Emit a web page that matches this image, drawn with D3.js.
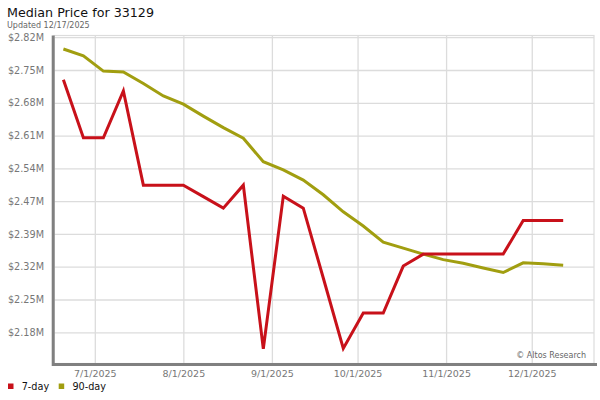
<!DOCTYPE html>
<html>
<head>
<meta charset="utf-8">
<script src="https://cdn.jsdelivr.net/npm/d3@7"></script>
<style>
  body { margin: 0; background: #fff; }
  svg { display: block; font-family: "DejaVu Sans", Verdana, sans-serif; }
</style>
</head>
<body>
<div class="canvas"></div>
<script>
// weekly points, Friday dates
const dates = [
  "2025-06-20", "2025-06-27", "2025-07-04", "2025-07-11", "2025-07-18", "2025-07-25",
  "2025-08-01", "2025-08-08", "2025-08-15", "2025-08-22", "2025-08-29", "2025-09-05",
  "2025-09-12", "2025-09-19", "2025-09-26", "2025-10-03", "2025-10-10", "2025-10-17",
  "2025-10-24", "2025-10-31", "2025-11-07", "2025-11-14", "2025-11-21", "2025-11-28",
  "2025-12-05", "2025-12-12"
]

// values in $M
const sevenDay = [
  2.729, 2.603, 2.603, 2.705, 2.500, 2.500,
  2.500, 2.475, 2.450, 2.500, 2.144, 2.476,
  2.450, 2.298, 2.145, 2.222, 2.222, 2.324,
  2.350, 2.350, 2.350, 2.350, 2.350, 2.423,
  2.423, 2.423
]

const ninetyDay = [
  2.796, 2.781, 2.748, 2.746, 2.721, 2.694,
  2.676, 2.650, 2.625, 2.602, 2.551, 2.533,
  2.511, 2.479, 2.442, 2.411, 2.376, 2.363,
  2.350, 2.338, 2.330, 2.320, 2.310, 2.331,
  2.329, 2.326
]

const yTicks = [2.18, 2.2513, 2.3226, 2.3939, 2.4652, 2.5365, 2.6078, 2.6791, 2.7504, 2.8217]
const yTickLabels = ["$2.18M", "$2.25M", "$2.32M", "$2.39M", "$2.47M", "$2.54M", "$2.61M", "$2.68M", "$2.75M", "$2.82M"]

const xTicks = ["2025-07-01", "2025-08-01", "2025-09-01", "2025-10-01", "2025-11-01", "2025-12-01"]
const xTickLabels = ["7/1/2025", "8/1/2025", "9/1/2025", "10/1/2025", "11/1/2025", "12/1/2025"]

const series = [
  { name: "7-day", values: sevenDay, color: "#c8111a" },
  { name: "90-day", values: ninetyDay, color: "#a19e10" }
]

const parse = d3.timeParse("%Y-%m-%d")

const width = 600
const height = 400
const plot = { left: 54, right: 594, top: 35.5, bottom: 363.5 }

const svg = d3.select(".canvas")
  .append("svg")
    .attr("width", width)
    .attr("height", height)

const x = d3.scaleTime()
  .domain([new Date(2025, 5, 16, 17), new Date(2025, 11, 22, 19)])
  .range([plot.left, plot.right])

const y = d3.scaleLinear()
  .domain([yTicks[0], yTicks[yTicks.length - 1]])
  .range([332.3, 37.2])

// plot frame
svg.append("rect")
  .attr("x", plot.left)
  .attr("y", plot.top)
  .attr("width", plot.right - plot.left)
  .attr("height", plot.bottom - plot.top)
  .attr("fill", "#fff")
  .attr("stroke", "#dcdcdc")
  .attr("stroke-width", 1.2)

// gridlines via axes
const yAxisGroup = svg.append("g")
  .attr("transform", `translate(${plot.left}, 0)`)
  .call(d3.axisLeft(y)
    .tickValues(yTicks)
    .tickSize(-(plot.right - plot.left))
    .tickPadding(10)
    .tickFormat((d, i) => yTickLabels[i]))

const xAxisGroup = svg.append("g")
  .attr("transform", `translate(0, ${plot.bottom})`)
  .call(d3.axisBottom(x)
    .tickValues(xTicks.map(parse))
    .tickSize(-(plot.bottom - plot.top))
    .tickPadding(7)
    .tickFormat((d, i) => xTickLabels[i]))

svg.selectAll(".domain").remove()
svg.selectAll(".tick line")
  .attr("stroke", "#dcdcdc")
  .attr("stroke-width", 1.3)

yAxisGroup.selectAll("text")
  .attr("fill", "#777")
  .attr("font-size", 9.7)
  .attr("font-family", "DejaVu Sans, sans-serif")

xAxisGroup.selectAll("text")
  .attr("fill", "#777")
  .attr("font-size", 9.5)
  .attr("font-family", "DejaVu Sans, sans-serif")

// heavy axis bars
svg.append("line")
  .attr("x1", 53.2).attr("x2", 53.2)
  .attr("y1", plot.top).attr("y2", 366)
  .attr("stroke", "#808080")
  .attr("stroke-width", 3)

svg.append("line")
  .attr("x1", 52).attr("x2", 597)
  .attr("y1", 364.5).attr("y2", 364.5)
  .attr("stroke", "#808080")
  .attr("stroke-width", 3)

// lines
const line = d3.line()
  .x((d, i) => x(parse(dates[i])))
  .y(d => y(d))

svg.selectAll(".series")
  .data(series.slice().reverse())
  .enter()
  .append("path")
    .attr("class", "series")
    .attr("d", d => line(d.values))
    .attr("fill", "none")
    .attr("stroke", d => d.color)
    .attr("stroke-width", 3)
    .attr("stroke-linejoin", "miter")

svg.append("text")
  .attr("x", 586)
  .attr("y", 357.5)
  .attr("text-anchor", "end")
  .attr("font-size", 8)
  .attr("fill", "#666")
  .text("© Altos Research")

// title
svg.append("text")
  .attr("x", 7)
  .attr("y", 17)
  .attr("font-size", 12.7)
  .attr("fill", "#111")
  .text("Median Price for 33129")

svg.append("text")
  .attr("x", 7)
  .attr("y", 27.5)
  .attr("font-size", 8)
  .attr("fill", "#666")
  .text("Updated 12/17/2025")

// legend
const legend = svg.selectAll(".legend")
  .data(series)
  .enter()
  .append("g")
    .attr("class", "legend")
    .attr("transform", (d, i) => `translate(${8 + i * 50.7}, 383.5)`)

legend.append("rect")
  .attr("width", 5.5)
  .attr("height", 5.5)
  .attr("fill", d => d.color)

legend.append("text")
  .attr("x", 13.7)
  .attr("y", 6.7)
  .attr("font-size", 9.7)
  .attr("fill", "#111")
  .text(d => d.name)
</script>
</body>
</html>
